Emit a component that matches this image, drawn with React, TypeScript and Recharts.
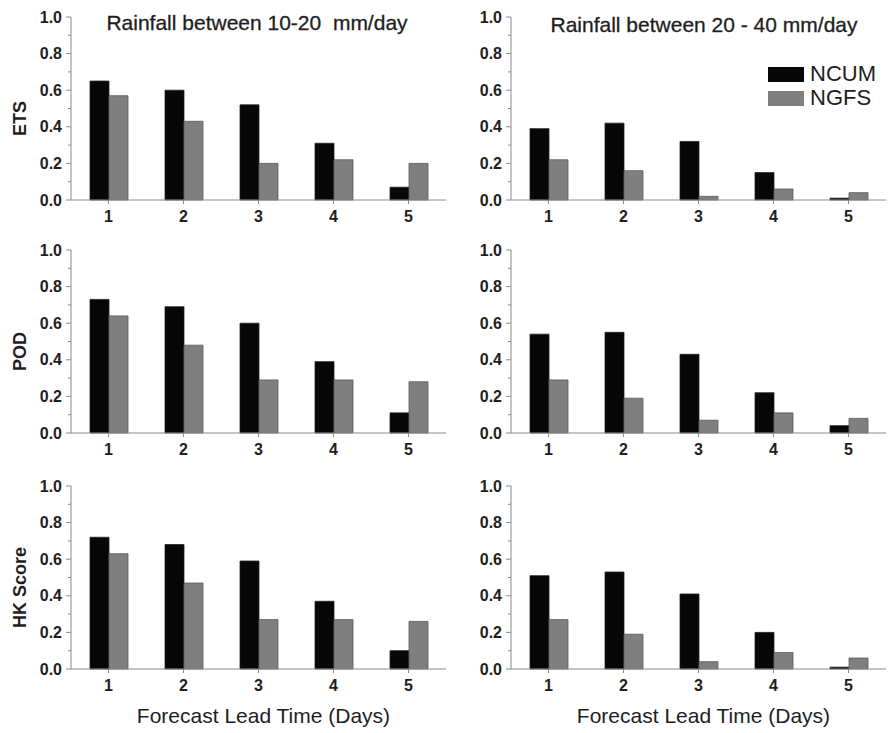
import { BarChart, Bar, XAxis, YAxis, Legend } from "recharts";

const DAYS = ["1", "2", "3", "4", "5"];
const Y_TICKS = [0, 0.1, 0.2, 0.3, 0.4, 0.5, 0.6, 0.7, 0.8, 0.9, 1.0];

// 10-20 mm/day
const ETS_LOW_NCUM = [0.65, 0.6, 0.52, 0.31, 0.07];
const ETS_LOW_NGFS = [0.57, 0.43, 0.2, 0.22, 0.2];
const POD_LOW_NCUM = [0.73, 0.69, 0.6, 0.39, 0.11];
const POD_LOW_NGFS = [0.64, 0.48, 0.29, 0.29, 0.28];
const HK_LOW_NCUM = [0.72, 0.68, 0.59, 0.37, 0.1];
const HK_LOW_NGFS = [0.63, 0.47, 0.27, 0.27, 0.26];

// 20-40 mm/day
const ETS_HIGH_NCUM = [0.39, 0.42, 0.32, 0.15, 0.01];
const ETS_HIGH_NGFS = [0.22, 0.16, 0.02, 0.06, 0.04];
const POD_HIGH_NCUM = [0.54, 0.55, 0.43, 0.22, 0.04];
const POD_HIGH_NGFS = [0.29, 0.19, 0.07, 0.11, 0.08];
const HK_HIGH_NCUM = [0.51, 0.53, 0.41, 0.2, 0.01];
const HK_HIGH_NGFS = [0.27, 0.19, 0.04, 0.09, 0.06];

const FONT = "'Liberation Sans', Arial, sans-serif";
const AXIS = "#8a8a8a";
const INK = "#1e1e1e";
const BLACK = "#070707";
const GREY = "#7f7f7f";

const toRows = (ncum: number[], ngfs: number[]) =>
  DAYS.map((day, i) => ({ day, ncum: ncum[i], ngfs: ngfs[i] }));

function YTick(props: any) {
  const { x, y, payload } = props;
  const v = payload.value as number;
  const major = Math.round(v * 10) % 2 === 0;
  const ax = x + 9;
  return (
    <g>
      <line x1={ax} x2={ax - (major ? 5 : 3)} y1={y} y2={y} stroke={AXIS} />
      {major && (
        <text
          x={x}
          y={y}
          textAnchor="end"
          dominantBaseline="central"
          fontSize={16}
          fontWeight="bold"
          fontFamily={FONT}
          fill={INK}
        >
          {v.toFixed(1)}
        </text>
      )}
    </g>
  );
}

function LegendBox(props: any) {
  const items = props.payload || [];
  return (
    <div style={{ fontFamily: FONT }}>
      {items.map((it: any) => (
        <div key={it.value} style={{ display: "flex", alignItems: "center", height: 24 }}>
          <div style={{ width: 36, height: 15, background: it.color, marginRight: 6 }} />
          <span style={{ fontSize: 22, color: INK }}>{it.value}</span>
        </div>
      ))}
    </div>
  );
}

interface PanelProps {
  left: number;
  top: number;
  ncum: number[];
  ngfs: number[];
  yLabel?: string;
  bottom?: boolean;
  legend?: boolean;
}

function Panel({ left, top, ncum, ngfs, yLabel, bottom, legend }: PanelProps) {
  const xHeight = bottom ? 60 : 30;
  return (
    <div style={{ position: "absolute", left, top }}>
      <BarChart
        width={448}
        height={17 + 183 + xHeight}
        data={toRows(ncum, ngfs)}
        margin={{ top: 17, right: 2, left: 0, bottom: 0 }}
        barGap={0}
        barSize={19}
      >
        <XAxis
          dataKey="day"
          height={xHeight}
          stroke={AXIS}
          tickSize={4}
          tickMargin={7}
          tick={{ fontSize: 16, fontWeight: "bold", fill: INK, fontFamily: FONT }}
          label={
            bottom
              ? (p: any) => (
                  <text
                    x={p.viewBox.x + p.viewBox.width / 2 + 5}
                    y={p.viewBox.y + 46}
                    textAnchor="middle"
                    dominantBaseline="central"
                    fontSize={21}
                    fontFamily={FONT}
                    fill={INK}
                  >
                    Forecast Lead Time (Days)
                  </text>
                )
              : undefined
          }
        />
        <YAxis
          width={71}
          domain={[0, 1]}
          ticks={Y_TICKS}
          interval={0}
          stroke={AXIS}
          tickLine={false}
          tickSize={5}
          tickMargin={4}
          tick={(p: any) => <YTick {...p} />}
          label={
            yLabel
              ? (p: any) => {
                  const cx = p.viewBox.x + 20;
                  const cy = p.viewBox.y + p.viewBox.height / 2 + 10;
                  return (
                    <text
                      x={cx}
                      y={cy}
                      transform={`rotate(-90 ${cx} ${cy})`}
                      textAnchor="middle"
                      dominantBaseline="central"
                      fontSize={18}
                      fontWeight="bold"
                      fontFamily={FONT}
                      fill={INK}
                    >
                      {yLabel}
                    </text>
                  );
                }
              : undefined
          }
        />
        {legend && (
          <Legend
            layout="vertical"
            align="center"
            verticalAlign="middle"
            wrapperStyle={{ left: 328, top: 62, width: 120 }}
            content={<LegendBox />}
          />
        )}
        <Bar dataKey="ncum" name="NCUM" fill={BLACK} stroke="#222" strokeWidth={0.8} isAnimationActive={false} />
        <Bar dataKey="ngfs" name="NGFS" fill={GREY} stroke="#5a5a5a" strokeWidth={0.8} isAnimationActive={false} />
      </BarChart>
    </div>
  );
}

const titleStyle = {
  position: "absolute" as const,
  width: 360,
  textAlign: "center" as const,
  fontFamily: FONT,
  fontSize: 21,
  color: INK,
  whiteSpace: "pre" as const,
  lineHeight: "24px",
  WebkitTextStroke: "0.3px #1e1e1e",
};

export default function App() {
  return (
    <div
      style={{
        position: "absolute",
        left: 0,
        top: 0,
        width: 889,
        height: 733,
        background: "#fff",
        overflow: "hidden",
      }}
    >
      <Panel left={0} top={0} ncum={ETS_LOW_NCUM} ngfs={ETS_LOW_NGFS} yLabel="ETS" />
      <Panel left={440} top={0} ncum={ETS_HIGH_NCUM} ngfs={ETS_HIGH_NGFS} legend />
      <Panel left={0} top={233} ncum={POD_LOW_NCUM} ngfs={POD_LOW_NGFS} yLabel="POD" />
      <Panel left={440} top={233} ncum={POD_HIGH_NCUM} ngfs={POD_HIGH_NGFS} />
      <Panel left={0} top={469} ncum={HK_LOW_NCUM} ngfs={HK_LOW_NGFS} yLabel="HK Score" bottom />
      <Panel left={440} top={469} ncum={HK_HIGH_NCUM} ngfs={HK_HIGH_NGFS} bottom />
      <div style={{ ...titleStyle, left: 77, top: 11 }}>Rainfall between 10-20  mm/day</div>
      <div style={{ ...titleStyle, left: 524, top: 13 }}>Rainfall between 20 - 40 mm/day</div>
    </div>
  );
}
